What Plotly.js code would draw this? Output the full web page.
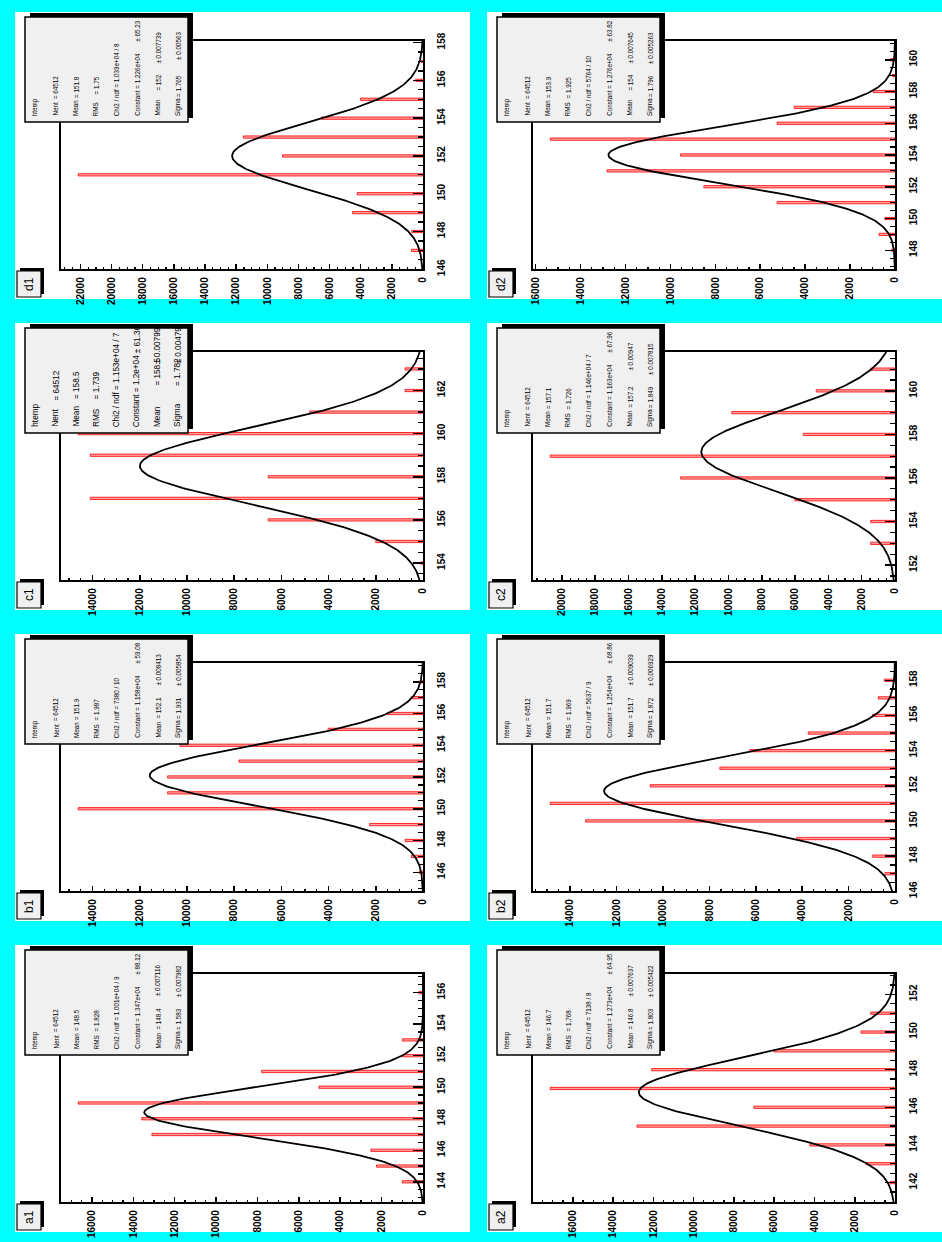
<!DOCTYPE html>
<html><head><meta charset="utf-8">
<script src="https://cdn.plot.ly/plotly-3.0.1.min.js"></script>
<style>html,body{margin:0;padding:0;background:#00ffff;} #chart{width:942px;height:1242px;}</style>
</head><body><div id="chart"></div>
<script>
// ---------------- data ----------------
const panelNames = ['d1','d2','c1','c2','b1','b2','a1','a2'];

const bins_d1 = [146,147,148,149,150,151,152,153,154,155,156,157];
const counts_d1 = [50,740,720,4530,4230,22140,9020,11540,6540,4020,470,100];
const bins_d2 = [148,149,150,151,152,153,154,155,156,157,158,159,160];
const counts_d2 = [150,710,450,5250,8510,12820,9550,15350,5250,4490,970,120,200];
const bins_c1 = [154,155,156,157,158,159,160,161,162,163];
const counts_c1 = [100,2000,6560,14100,6560,14100,14610,4800,760,760];
const bins_c2 = [153,154,155,156,157,158,159,160,161];
const counts_c2 = [1460,1460,6010,12870,20700,5510,9800,4730,1460];
const bins_b1 = [146,147,148,149,150,151,152,153,154,155,156,157,158];
const counts_b1 = [150,490,760,2260,14610,10820,10820,7800,10300,4020,1520,490,110];
const bins_b2 = [147,148,149,150,151,152,153,154,155,156,157,158];
const counts_b2 = [430,960,4240,13340,14860,10550,7550,6260,3740,960,720,460];
const bins_a1 = [144,145,146,147,148,149,150,151,152,153,156];
const counts_a1 = [1000,2250,2520,13100,13590,16660,5030,7800,1000,1000,200];
const bins_a2 = [142,143,144,145,146,147,148,149,150,151];
const counts_a2 = [250,1440,4230,12820,7010,17130,12090,6020,1690,1210];

// histogram axis ranges (htemp)
const binLo = [146.0, 146.8, 153.2, 151.3, 144.8, 146.0, 142.7, 140.95];
const binHi = [158.1, 161.2, 163.8, 161.8, 159.2, 159.0, 157.2, 153.1];

// stats box texts
const statNent = ['64512','64512','64512','64512','64512','64512','64512','64512'];
const statMean = ['151.8','153.9','158.5','157.1','151.9','151.7','148.5','146.7'];
const statRMS = ['1.75','1.925','1.739','1.726','1.987','1.969','1.828','1.768'];
const statChi2 = ['1.039e+04 / 8','5764 / 10','1.153e+04 / 7','1.146e+04 / 7','7380 / 10','5637 / 9','1.001e+04 / 9','7138 / 8'];
const fitConstant = ['1.226e+04','1.276e+04','1.2e+04','1.163e+04','1.158e+04','1.254e+04','1.347e+04','1.273e+04'];
const fitConstantErr = ['65.23','63.82','61.36','67.96','59.08','68.86','88.12','64.95'];
const fitMean = ['152','154','158.5','157.2','152.1','151.7','148.4','146.8'];
const fitMeanErr = ['0.007739','0.007645','0.00799','0.00947','0.008413','0.009039','0.007116','0.007637'];
const fitSigma = ['1.765','1.796','1.782','1.849','1.931','1.872','1.583','1.803'];
const fitSigmaErr = ['0.00563','0.005263','0.00479','0.007815','0.005854','0.006929','0.007982','0.005422'];

const binsAll = [bins_d1,bins_d2,bins_c1,bins_c2,bins_b1,bins_b2,bins_a1,bins_a2];
const countsAll = [counts_d1,counts_d2,counts_c1,counts_c2,counts_b1,counts_b2,counts_a1,counts_a2];

// ---------------- layout geometry ----------------
const W = 942, H = 1242;
const colX = [15, 487], rowY = [12, 323, 634, 945], PW = 455, PH = 287;
const FR = {x0: 46, x1: 408, y0: 28.7, y1: 257.3};
const px = x => x / W, py = y => 1 - y / H;
const FONT = 'Liberation Sans, Arial, Helvetica, sans-serif';

const traces = [], shapes = [], annotations = [];
const layout = {
  width: W, height: H, margin: {l:0, r:0, t:0, b:0},
  paper_bgcolor: '#00ffff', plot_bgcolor: 'white', showlegend: false
};

function rect(x0, y0, x1, y1, fill, lw, layer) {
  shapes.push({type:'rect', xref:'paper', yref:'paper', x0:px(x0), x1:px(x1), y0:py(y1), y1:py(y0),
    fillcolor: fill, line:{color:'black', width: lw}, layer: layer || 'above'});
}
function rtext(x, y, text, size, anchor) {
  annotations.push({xref:'paper', yref:'paper', x:px(x), y:py(y), text:text, showarrow:false,
    textangle:-90, xanchor:'center', yanchor:anchor, borderpad:0,
    font:{family:FONT, size:size, color:'black'}});
}

panelNames.forEach((name, i) => {
  const col = i % 2, row = Math.floor(i / 2);
  const L = colX[col], T = rowY[row];
  const n = i + 1, sfx = n === 1 ? '' : String(n);
  const xa = 'x' + sfx, ya = 'y' + sfx;
  const bins = binsAll[i], counts = countsAll[i];
  const maxC = Math.max(...counts);
  const bw = (binHi[i] - binLo[i]) / 100;

  // panel background
  shapes.push({type:'rect', xref:'paper', yref:'paper', x0:px(L), x1:px(L+PW), y0:py(T+PH), y1:py(T),
    fillcolor:'white', line:{width:0}, layer:'below'});

  traces.push({type:'bar', orientation:'h', y:bins, x:counts, width:bw, xaxis:xa, yaxis:ya,
    marker:{color:'#ffa0a0', line:{color:'#ff0000', width:0.8}}, hoverinfo:'skip'});

  // gaussian fit function drawn from the fitted parameters in the stats box
  const C = parseFloat(fitConstant[i]), M = parseFloat(fitMean[i]), S = parseFloat(fitSigma[i]);
  const fy = [], fx = [];
  for (let k = 0; k <= 300; k++) {
    const v = binLo[i] + (binHi[i] - binLo[i]) * k / 300;
    fy.push(v); fx.push(C * Math.exp(-0.5 * Math.pow((v - M) / S, 2)));
  }
  traces.push({type:'scatter', mode:'lines', x:fx, y:fy, xaxis:xa, yaxis:ya,
    line:{color:'black', width:1.8}, hoverinfo:'skip'});

  const tickfont = {family:FONT, size:10, weight:'bold', color:'black'};
  layout['xaxis' + sfx] = {
    domain:[px(L+FR.x0), px(L+FR.x1)], anchor:ya, range:[1.05*maxC, 0],
    showline:true, linecolor:'black', linewidth:2, mirror:true,
    ticks:'inside', ticklen:5, tickwidth:1.5, tickcolor:'black', tickmode:'linear', tick0:0, dtick:2000,
    minor:{ticks:'inside', ticklen:2.5, tickwidth:1.2, tickcolor:'black', dtick:500, tick0:0, showgrid:false},
    tickangle:-90, tickfont:tickfont, ticklabelstandoff:2, tickformat:'d',
    showgrid:false, zeroline:false, fixedrange:true, automargin:false
  };
  layout['yaxis' + sfx] = {
    domain:[py(T+FR.y1), py(T+FR.y0)], anchor:xa, side:'right', range:[binLo[i], binHi[i]],
    showline:true, linecolor:'black', linewidth:2, mirror:true,
    ticks:'inside', ticklen:10, tickwidth:1.5, tickcolor:'black', tickmode:'linear', tick0:0, dtick:2,
    minor:{ticks:'inside', ticklen:5, tickwidth:1.2, tickcolor:'black', dtick:0.5, tick0:0, showgrid:false},
    tickangle:-90, tickfont:tickfont, ticklabelstandoff:8, tickformat:'d',
    showgrid:false, zeroline:false, fixedrange:true, automargin:false
  };

  // stats box (shadow + box)
  rect(L+15, T+1, L+178, T+106, 'black', 0);
  rect(L+10, T+5, L+173, T+110, '#f0f0f0', 1.5);
  const big = name === 'c1';
  const fs = big ? 8.2 : 6.3;
  const bottom = T + 105;
  const valEnd = T + (big ? 47 : 63);
  const fitValEnd = T + (big ? 34 : 62);
  const cErrEnd = T + (big ? 1 : 8);
  const errEnd = T + (big ? 3 : 19);
  const rc = r => L + 10 + 20.4 * (r + 0.5);
  rtext(rc(0), bottom, 'htemp', fs, 'bottom');
  rtext(rc(1), bottom, 'Nent', fs, 'bottom');
  rtext(rc(1), valEnd, '= ' + statNent[i], fs, 'top');
  rtext(rc(2), bottom, 'Mean', fs, 'bottom');
  rtext(rc(2), valEnd, '= ' + statMean[i], fs, 'top');
  rtext(rc(3), bottom, 'RMS', fs, 'bottom');
  rtext(rc(3), valEnd, '= ' + statRMS[i], fs, 'top');
  rtext(rc(4), bottom, 'Chi2 / ndf = ' + statChi2[i], fs, 'bottom');
  rtext(rc(5), bottom, 'Constant = ' + fitConstant[i], fs, 'bottom');
  rtext(rc(5), cErrEnd, '\u00b1 ' + fitConstantErr[i], fs, 'top');
  rtext(rc(6), bottom, 'Mean', fs, 'bottom');
  rtext(rc(6), fitValEnd, '= ' + fitMean[i], fs, 'top');
  rtext(rc(6), errEnd, '\u00b1 ' + fitMeanErr[i], fs, 'top');
  rtext(rc(7), bottom, 'Sigma', fs, 'bottom');
  rtext(rc(7), fitValEnd, '= ' + fitSigma[i], fs, 'top');
  rtext(rc(7), errEnd, '\u00b1 ' + fitSigmaErr[i], fs, 'top');

  // pad label box
  rect(L+5, T+256, L+29, T+282, 'black', 0);
  rect(L+2, T+259, L+26, T+285, '#f0f0f0', 1.2);
  annotations.push({xref:'paper', yref:'paper', x:px(L+14), y:py(T+272), text:name, showarrow:false,
    textangle:-90, xanchor:'center', yanchor:'middle', borderpad:0,
    font:{family:FONT, size:12, color:'black'}});
});

layout.shapes = shapes;
layout.annotations = annotations;
Plotly.newPlot('chart', traces, layout, {staticPlot:true, displayModeBar:false});
</script>
</body></html>
